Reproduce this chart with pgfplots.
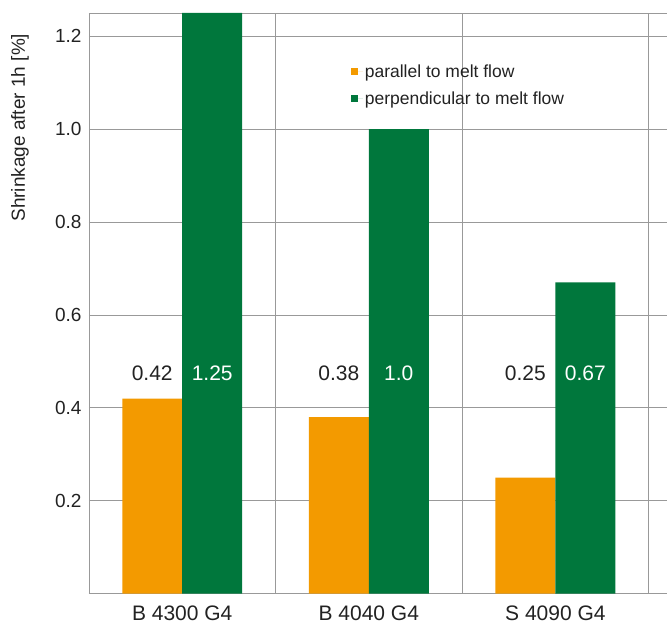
\documentclass[border=0pt]{standalone}
\usepackage{pgfplots}
\pgfplotsset{compat=1.18}
\usepackage{fontspec}
\setmainfont{Liberation Sans}
\definecolor{cOrange}{HTML}{F39A00}
\definecolor{cGreen}{HTML}{00773C}
\definecolor{cGrid}{HTML}{999999}
\definecolor{cText}{HTML}{222222}
\begin{document}
\begin{tikzpicture}
\begin{axis}[
  name=ax,
  scale only axis,
  width=578bp, height=581bp,
  xmin=-0.5, xmax=2.596,
  ymin=0, ymax=1.25,
  ybar=0pt,
  bar width=60bp,
  axis line style={draw=none},
  major tick length=0pt,
  xtick={0,1,2},
  xticklabels={B 4300 G4, B 4040 G4, S 4090 G4},
  ytick={0.2,0.4,0.6,0.8,1.0,1.2},
  yticklabels={0.2,0.4,0.6,0.8,1.0,1.2},
  ymajorgrids,
  grid style={draw=cGrid, line width=0.8bp},
  extra x ticks={-0.5,0.5,1.5,2.5},
  extra x tick labels={},
  extra y ticks={0,1.25},
  extra y tick labels={},
  extra tick style={grid=major, major tick length=0pt, grid style={draw=cGrid, line width=0.8bp}},
  tick label style={text=cText},
  yticklabel style={font=\fontsize{19bp}{22bp}\selectfont, xshift=-4bp},
  xticklabel style={font=\fontsize{21bp}{24bp}\selectfont, yshift=-9bp},
  legend style={draw=none, fill=none, at={(0.453,0.915)}, anchor=north west,
    font=\fontsize{17.5bp}{20bp}\selectfont, text=cText, row sep=9bp,
    inner sep=0pt},
  legend cell align=left,
  legend image code/.code={\fill[#1] (0bp,-3.5bp) rectangle (7bp,3.5bp); \path (0bp,0bp) -- (12bp,0bp);},
]
\addplot[fill=cOrange, draw=none] coordinates {(0,0.42) (1,0.38) (2,0.25)};
\addplot[fill=cGreen, draw=none] coordinates {(0,1.25) (1,1.0) (2,0.67)};
\legend{parallel to melt flow, perpendicular to melt flow}
\end{axis}
\begin{scope}[every node/.style={inner sep=0pt, anchor=base, font=\fontsize{21bp}{24bp}\selectfont}]
\node[text=cText] at ([xshift=63.3bp,yshift=213bp]ax.south west) {0.42};
\node[text=white] at ([xshift=123.3bp,yshift=213bp]ax.south west) {1.25};
\node[text=cText] at ([xshift=250bp,yshift=213bp]ax.south west) {0.38};
\node[text=white] at ([xshift=310bp,yshift=213bp]ax.south west) {1.0};
\node[text=cText] at ([xshift=436.7bp,yshift=213bp]ax.south west) {0.25};
\node[text=white] at ([xshift=496.7bp,yshift=213bp]ax.south west) {0.67};
\end{scope}
\node[rotate=90, anchor=base west, inner sep=0pt, text=cText, font=\fontsize{19bp}{22bp}\selectfont] at ([xshift=-64bp,yshift=372bp]ax.south west) {Shrinkage after 1h [\%]};
\path ([xshift=-89bp,yshift=-34bp]ax.south west) ++(0,0);
\path ([yshift=13bp]ax.north east) ++(0,0);
\end{tikzpicture}
\end{document}
